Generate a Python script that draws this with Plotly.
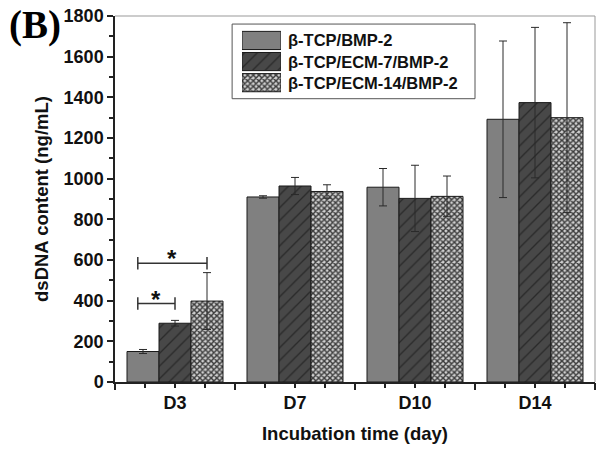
import plotly.graph_objects as go

categories = ["D3", "D7", "D10", "D14"]
series_names = ["β-TCP/BMP-2", "β-TCP/ECM-7/BMP-2", "β-TCP/ECM-14/BMP-2"]
tcp_bmp = [150, 910, 958, 1292]
tcp_bmp_err = [10, 6, 92, 385]
ecm7 = [289, 964, 903, 1374]
ecm7_err = [14, 42, 163, 370]
ecm14 = [398, 937, 913, 1300]
ecm14_err = [140, 33, 100, 467]

# significance brackets on D3 (x offsets relative to D3 centre, y level in ng/mL)
sig_left = [-0.31, -0.31]
sig_right = [0.0, 0.2667]
sig_level = [386, 584]
sig_label = ["*", "*"]

values = [tcp_bmp, ecm7, ecm14]
errors = [tcp_bmp_err, ecm7_err, ecm14_err]

FONT = "Liberation Sans, Arial, sans-serif"
styles = [
    dict(color="#808080", pattern=dict(shape="")),
    dict(color="#3f3f3f", pattern=dict(shape="/", fillmode="replace", bgcolor="#484848",
                                       fgcolor="#2a2a2a", size=9, solidity=0.15)),
    dict(color="#909090", pattern=dict(shape="x", fillmode="replace", bgcolor="#cfcfcf",
                                       fgcolor="#3c3c3c", size=4, solidity=0.6)),
]

x_idx = list(range(len(categories)))
fig = go.Figure()
for name, v, e, st in zip(series_names, values, errors, styles):
    fig.add_trace(go.Bar(
        x=x_idx, y=v, name=name, showlegend=False,
        marker=dict(color=st["color"], pattern=st["pattern"],
                    line=dict(color="#1a1a1a", width=1)),
        error_y=dict(type="data", array=e, visible=True, color="#2a2a2a",
                     thickness=1, width=4),
    ))

# significance brackets
for xl, xr, lvl, lab in zip(sig_left, sig_right, sig_level, sig_label):
    fig.add_trace(go.Scatter(
        x=[x_idx[0] + xl, x_idx[0] + xr], y=[lvl, lvl], mode="lines+markers",
        line=dict(color="#333333", width=1.5),
        marker=dict(symbol="line-ns-open", size=9, line=dict(color="#333333", width=1.5)),
        showlegend=False, hoverinfo="skip"))
    fig.add_annotation(x=x_idx[0] + (xl + xr) / 2, y=lvl, text=f"<b>{lab}</b>",
                       showarrow=False, yanchor="bottom", yshift=-11,
                       font=dict(family=FONT, size=24, color="#111"))

# legend built from bar swatches on a small inset axis
for i, (name, st) in enumerate(zip(series_names, styles)):
    fig.add_trace(go.Bar(
        x=[1], y=[i], orientation="h", xaxis="x2", yaxis="y2", showlegend=False,
        marker=dict(color=st["color"], pattern=st["pattern"],
                    line=dict(color="#1a1a1a", width=1)),
        hoverinfo="skip", width=0.86))
    fig.add_annotation(xref="paper", yref="y2", x=0.356, y=i, text=f"<b>{name}</b>",
                       showarrow=False, xanchor="left", yanchor="middle",
                       font=dict(family=FONT, size=16.5, color="#111"))

fig.add_shape(type="rect", xref="paper", yref="paper", x0=0.244, x1=0.75, y0=0.774, y1=0.978,
              line=dict(color="#555555", width=1), fillcolor="rgba(0,0,0,0)", layer="below")
# top / right frame lines (lighter)
fig.add_shape(type="line", xref="paper", yref="paper", x0=0, x1=1, y0=1, y1=1,
              line=dict(color="#999999", width=1))
fig.add_shape(type="line", xref="paper", yref="paper", x0=1, x1=1, y0=0, y1=1,
              line=dict(color="#999999", width=1))

fig.add_annotation(xref="paper", yref="paper", x=-0.226, y=0.975, text="<b>(B)</b>",
                   showarrow=False, xanchor="left", yanchor="middle",
                   font=dict(family="Liberation Serif, Times New Roman, serif", size=39, color="#000"))

fig.update_layout(
    width=602, height=454,
    margin=dict(l=115, r=7, t=16, b=72),
    paper_bgcolor="white", plot_bgcolor="white",
    barmode="group", bargap=0.2, bargroupgap=0,
    font=dict(family=FONT, size=18, color="#111"),
    xaxis=dict(range=[-0.5, 3.5], tickvals=x_idx, ticktext=[f"<b>{c}</b>" for c in categories],
               ticks="outside", ticklen=4, tickwidth=1.5, tickcolor="#222",
               showline=True, linecolor="#222", linewidth=1.5, showgrid=False, zeroline=False,
               minor=dict(tick0=-0.25, dtick=0.5, ticks="outside", ticklen=4, tickwidth=1.5, tickcolor="#222"),
               tickfont=dict(size=18, family=FONT),
               title=dict(text="<b>Incubation time (day)</b>", font=dict(size=18.5, family=FONT), standoff=15)),
    xaxis3=dict(range=[-0.5, 3.5], overlaying="x", anchor="y", side="bottom",
                tickvals=[-0.5, 0.5, 1.5, 2.5, 3.5], ticktext=[""] * 5,
                ticks="outside", ticklen=7, tickwidth=1.5, tickcolor="#222",
                showline=False, showgrid=False, zeroline=False),
    yaxis=dict(range=[0, 1800], dtick=200, ticks="outside", ticklen=6, tickwidth=1.5, tickcolor="#222",
               showline=True, linecolor="#222", linewidth=1.5, showgrid=False, zeroline=False,
               minor=dict(dtick=100, ticks="outside", ticklen=4, tickwidth=1.5, tickcolor="#222"),
               tickfont=dict(size=18, family=FONT), tickprefix="<b>", ticksuffix="</b>",
               title=dict(text="<b>dsDNA content (ng/mL)</b>", font=dict(size=18.5, family=FONT), standoff=10)),
    xaxis2=dict(domain=[0.2646, 0.3458], range=[0, 1], visible=False, fixedrange=True),
    yaxis2=dict(domain=[0.789, 0.962], range=[2.5, -0.5], visible=False, fixedrange=True, anchor="x2"),
)
fig.add_trace(go.Scatter(x=[None], y=[None], xaxis="x3", showlegend=False))

fig.write_html("out.html", config={"displayModeBar": False},
               post_script="document.body.style.margin='0';")
